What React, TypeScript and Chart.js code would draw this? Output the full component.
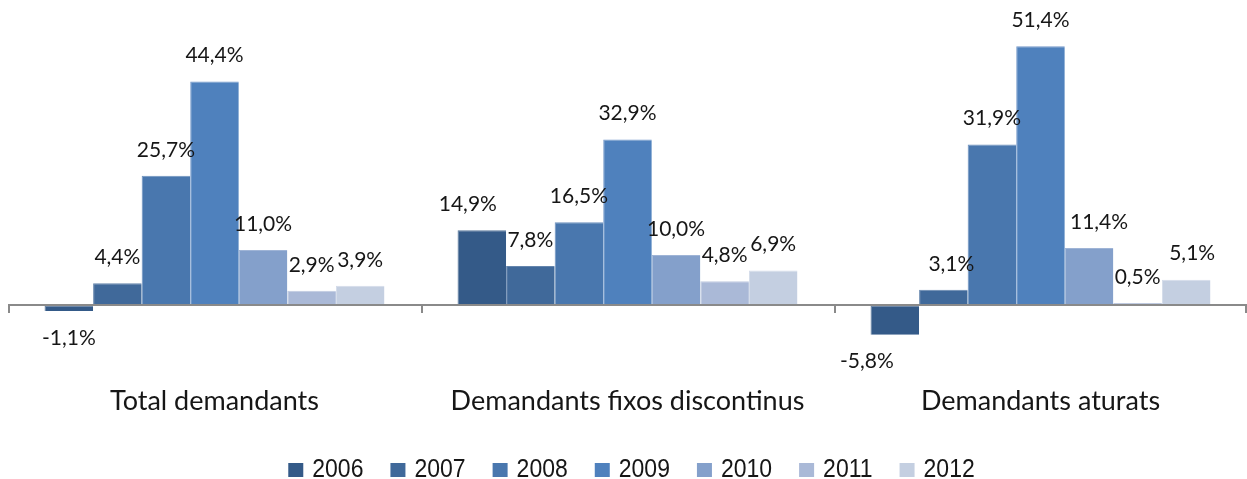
import React, { useEffect, useRef } from "react";
import { Chart, registerables } from "chart.js";

Chart.register(...registerables);

const categories = ["Total demandants", "Demandants fixos discontinus", "Demandants aturats"];
const years = ["2006", "2007", "2008", "2009", "2010", "2011", "2012"];
const v2006 = [-1.1, 14.9, -5.8];
const v2007 = [4.4, 7.8, 3.1];
const v2008 = [25.7, 16.5, 31.9];
const v2009 = [44.4, 32.9, 51.4];
const v2010 = [11.0, 10.0, 11.4];
const v2011 = [2.9, 4.8, 0.5];
const v2012 = [3.9, 6.9, 5.1];
const seriesValues = [v2006, v2007, v2008, v2009, v2010, v2011, v2012];
const colors = ["#345A88", "#40699A", "#4977AE", "#4F81BD", "#84A0CB", "#AAB9D7", "#C4CFE1"];
const borderColors = ["#5A779B", "#6485AD", "#6C90BD", "#7599CA", "#9FB4D6", "#BFCAE0", "#D3DBE9"];

const TEXT = "#161616";
const fmt = (v: number) => v.toFixed(1).replace(".", ",") + "%";

// label nudges (dataset index, category index) -> horizontal shift, as placed by the original
const labelNudge: Record<string, number> = { "0-1": -14, "0-2": -28, "1-2": 8, "4-2": 10, "6-2": 6 };

const textPlugin = {
  id: "texts",
  afterDatasetsDraw(chart: any) {
    const { ctx, scales } = chart;
    const x = scales.x;
    ctx.save();
    // zero axis with category tick marks, drawn over the bars
    const y0 = Math.round(scales.y.getPixelForValue(0));
    ctx.strokeStyle = "#8A8A8A";
    ctx.lineWidth = 2;
    ctx.beginPath();
    ctx.moveTo(x.left, y0);
    ctx.lineTo(x.right, y0);
    const n = categories.length;
    const w = (x.right - x.left) / n;
    for (let i = 0; i <= n; i++) {
      const px = Math.round(x.left + i * w) + (i === n ? -1 : 1);
      ctx.moveTo(px, y0);
      ctx.lineTo(px, y0 + 8);
    }
    ctx.stroke();
    // value labels
    ctx.font = "21px Lato";
    ctx.fillStyle = TEXT;
    ctx.textAlign = "center";
    ctx.textBaseline = "middle";
    chart.data.datasets.forEach((ds: any, di: number) => {
      const meta = chart.getDatasetMeta(di);
      meta.data.forEach((bar: any, i: number) => {
        const v = ds.data[i];
        const dx = labelNudge[di + "-" + i] || 0;
        const y = v >= 0 ? bar.y - 26 : bar.y + 27;
        ctx.fillText(fmt(v), bar.x + dx, y);
      });
    });
    // category labels
    ctx.font = "27px Lato";
    ctx.textBaseline = "alphabetic";
    categories.forEach((c, i) => {
      ctx.fillText(c, x.getPixelForValue(i), 410);
    });
    // legend
    const sx = 0.92;
    ctx.font = "25px 'Liberation Sans'";
    ctx.textAlign = "left";
    const box = 15, gap = 9, sep = 27;
    const widths = years.map((y) => ctx.measureText(y).width * sx);
    const total = widths.reduce((a, b) => a + b, 0) + years.length * (box + gap) + (years.length - 1) * sep;
    let cx = (x.left + x.right) / 2 + 4 - total / 2;
    years.forEach((y, i) => {
      ctx.fillStyle = colors[i];
      ctx.fillRect(cx, 463, box, 14);
      cx += box + gap;
      ctx.save();
      ctx.translate(cx, 477);
      ctx.scale(sx, 1);
      ctx.fillStyle = TEXT;
      ctx.fillText(y, 0, 0);
      ctx.restore();
      cx += widths[i] + sep;
    });
    ctx.restore();
  },
};

export default function App() {
  const ref = useRef<HTMLCanvasElement>(null);
  useEffect(() => {
    document.body.style.margin = "0";
    const chart = new Chart(ref.current!, {
      type: "bar",
      data: {
        labels: categories,
        datasets: years.map((y, i) => ({
          label: y,
          data: seriesValues[i],
          backgroundColor: colors[i],
          borderColor: borderColors[i],
          borderWidth: { left: 1, right: 0, top: 1, bottom: 0 },
          borderSkipped: false,
          categoryPercentage: 0.823,
          barPercentage: 1,
        })),
      },
      options: {
        animation: false,
        responsive: false,
        maintainAspectRatio: false,
        layout: { padding: { top: 3, left: 8, right: 0, bottom: 98 } },
        plugins: {
          legend: { display: false },
          tooltip: { enabled: false },
        },
        scales: {
          x: { display: false },
          y: { display: false, min: -15, max: 60 },
        },
      },
      plugins: [textPlugin],
    });
    return () => chart.destroy();
  }, []);
  return (
    <div style={{ position: "absolute", left: 0, top: 0, width: 1247, height: 479 }}>
      <canvas ref={ref} width={1247} height={479} style={{ width: 1247, height: 479 }} />
    </div>
  );
}
